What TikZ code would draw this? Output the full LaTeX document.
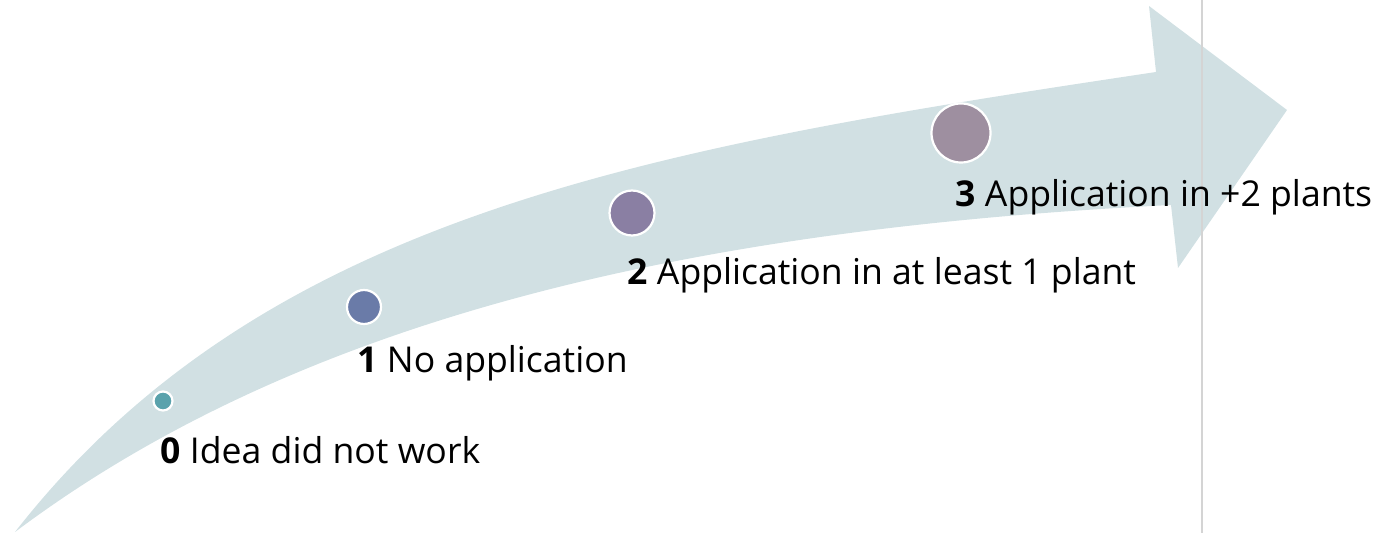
\documentclass[tikz,border=0pt]{standalone}
\usepackage{fontspec}
\setmainfont{Open Sans}
\definecolor{arrowfill}{HTML}{D1E0E3}
\definecolor{gridline}{HTML}{D4D4D4}
\definecolor{dotA}{HTML}{5AA2AC}
\definecolor{dotB}{HTML}{6A7BA8}
\definecolor{dotC}{HTML}{8A7FA3}
\definecolor{dotD}{HTML}{9E8FA0}
\tikzset{
  dot/.style={circle, inner sep=0pt, draw=white, line width=1.1pt},
  lbl/.style={anchor=base west, inner sep=0pt, font=\fontsize{17.8pt}{21pt}\selectfont}
}
\begin{document}
\begin{tikzpicture}[x=0.5pt,y=-0.5pt]
\useasboundingbox (0,0) rectangle (1381,533);
% curved arrow
\fill[arrowfill] (15,532) .. controls (265,212) and (656,147) .. (1156,72)
  -- (1149,6) -- (1287,110) -- (1178,268) -- (1171,205)
  .. controls (721,227.5) and (315,307) .. (15,532) -- cycle;
% vertical rule
\coordinate (rt) at (1202,0);
\coordinate (rb) at (1202,533);
\draw[gridline, line width=1pt] (rt) -- (rb);
% dots
\node[dot, fill=dotA, minimum size=9.5pt] (d0) at (163,401) {};
\node[dot, fill=dotB, minimum size=17pt] (d1) at (364,307) {};
\node[dot, fill=dotC, minimum size=22.5pt] (d2) at (632,213) {};
\node[dot, fill=dotD, minimum size=29.5pt] (d3) at (961,133) {};
% labels
\node[lbl] (t0) at (160,464) {\textbf{0} Idea did not work};
\node[lbl] (t1) at (357,373) {\textbf{1} No application};
\node[lbl] (t2) at (627,285) {\textbf{2} Application in at least 1 plant};
\node[lbl] (t3) at (955,207) {\textbf{3} Application in +2 plants};
\end{tikzpicture}
\end{document}
